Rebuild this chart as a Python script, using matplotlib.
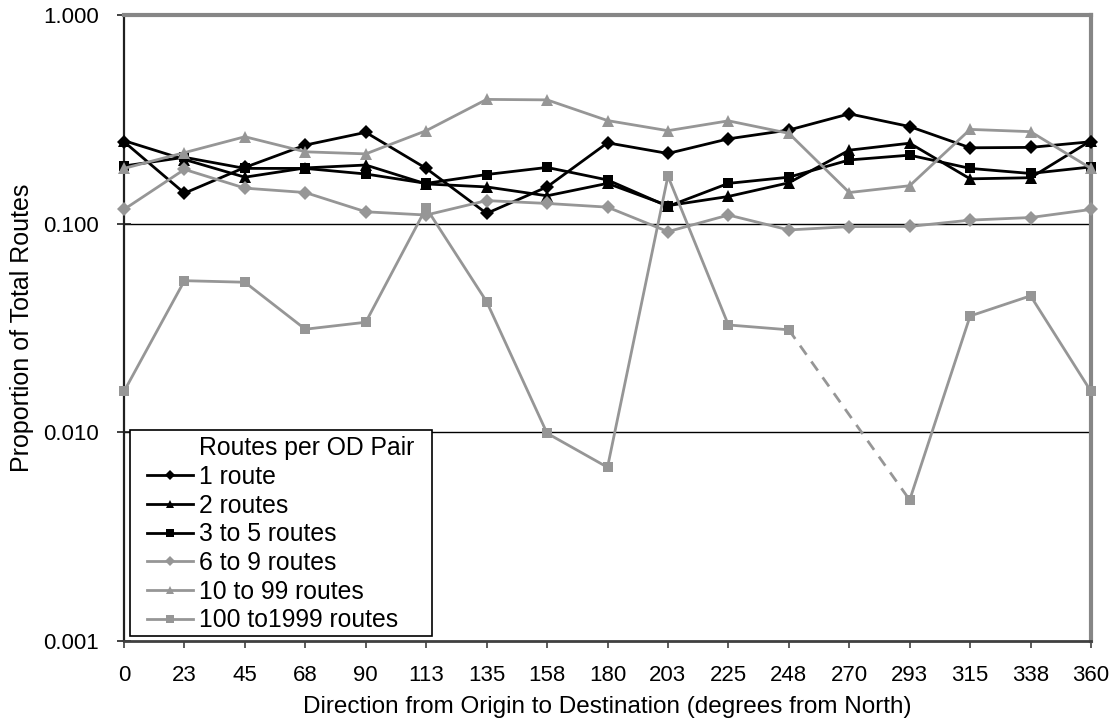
import numpy as np
import matplotlib
matplotlib.use("Agg")
import matplotlib.pyplot as plt
from matplotlib.lines import Line2D
from matplotlib.patches import Rectangle
from matplotlib.ticker import FixedLocator, FixedFormatter, NullLocator

plt.rcParams['font.family'] = ['Liberation Sans', 'DejaVu Sans']

categories = ["0", "23", "45", "68", "90", "113", "135", "158", "180",
              "203", "225", "248", "270", "293", "315", "338", "360"]

route_1 = [0.247, 0.140, 0.186, 0.238, 0.274, 0.184, 0.112, 0.150, 0.244,
           0.217, 0.255, 0.281, 0.336, 0.292, 0.231, 0.232, 0.247]
routes_2 = [0.250, 0.203, 0.167, 0.185, 0.191, 0.155, 0.150, 0.136, 0.156,
            0.122, 0.135, 0.157, 0.225, 0.243, 0.164, 0.166, 0.250]
routes_3_5 = [0.189, 0.208, 0.184, 0.184, 0.173, 0.156, 0.172, 0.186, 0.162,
              0.121, 0.156, 0.167, 0.202, 0.213, 0.184, 0.174, 0.187]
routes_6_9 = [0.117, 0.182, 0.148, 0.141, 0.114, 0.110, 0.129, 0.125, 0.120,
              0.0916, 0.110, 0.0933, 0.0968, 0.097, 0.104, 0.107, 0.117]
routes_10_99 = [0.184, 0.219, 0.261, 0.221, 0.216, 0.279, 0.394, 0.392, 0.312,
                0.279, 0.311, 0.271, 0.141, 0.152, 0.283, 0.276, 0.184]
routes_100_1999 = [0.0157, 0.0533, 0.0524, 0.0312, 0.0337, 0.119, 0.0423, 0.0099, 0.0068,
                   0.169, 0.0327, 0.0310, np.nan, 0.00474, 0.0361, 0.0451, 0.0157]

series_labels = ["1 route", "2 routes", "3 to 5 routes", "6 to 9 routes",
                 "10 to 99 routes", "100 to1999 routes"]
legend_title = "Routes per OD Pair"
y_ticks = [0.001, 0.010, 0.100, 1.000]
y_tick_labels = ["0.001", "0.010", "0.100", "1.000"]

BLACK = "#000000"
GRAY = "#969696"
FS_TICK = 16
FS_XLABEL = 17.5
FS_YLABEL = 18
FS_LEG = 17.8
W, H = 1115, 721

fig = plt.figure(figsize=(W / 100, H / 100), dpi=100)
ax = fig.add_axes([124 / W, 1 - 641 / H, (1091 - 124) / W, (641 - 15) / H])

x = np.arange(len(categories))
styles = [
    (route_1, BLACK, "D", 7),
    (routes_2, BLACK, "^", 8),
    (routes_3_5, BLACK, "s", 7.5),
    (routes_6_9, GRAY, "D", 7),
    (routes_10_99, GRAY, "^", 8),
    (routes_100_1999, GRAY, "s", 7.5),
]
handles = []
for (vals, col, mk, ms), lab in zip(styles, series_labels):
    ln, = ax.plot(x, vals, color=col, marker=mk, markersize=ms, linewidth=2,
                  markeredgewidth=0, clip_on=False, zorder=3, label=lab)
    handles.append(ln)

# dashed connector across the missing value in the last series
vals = np.array(routes_100_1999, dtype=float)
for i in range(1, len(vals) - 1):
    if np.isnan(vals[i]):
        ax.plot([x[i - 1], x[i + 1]], [vals[i - 1], vals[i + 1]], color=GRAY,
                linewidth=2, linestyle=(0, (4, 3)), zorder=2)

ax.set_yscale("log")
ax.set_ylim(0.001, 1.0)
ax.set_xlim(x[0], x[-1])
ax.yaxis.set_major_locator(FixedLocator(y_ticks))
ax.yaxis.set_major_formatter(FixedFormatter(y_tick_labels))
ax.yaxis.set_minor_locator(NullLocator())
ax.set_xticks(x)
ax.set_xticklabels(categories)

for yv in y_ticks[1:3]:
    ax.axhline(yv, color="black", linewidth=1, zorder=1)

ax.spines["left"].set_color("#202020")
ax.spines["left"].set_linewidth(1.6)
ax.spines["bottom"].set_color("#404040")
ax.spines["bottom"].set_linewidth(2)
ax.spines["top"].set_color("#868686")
ax.spines["top"].set_linewidth(3)
ax.spines["right"].set_color("#868686")
ax.spines["right"].set_linewidth(3)

ax.tick_params(axis="x", direction="out", length=5, width=1.2, color="#404040",
               labelsize=FS_TICK, pad=12.4)
ax.tick_params(axis="y", direction="inout", length=10, width=1.2, color="#202020",
               labelsize=FS_TICK, pad=13)

ax.set_xlabel("Direction from Origin to Destination (degrees from North)",
              fontsize=FS_XLABEL, labelpad=7)
ax.set_ylabel("Proportion of Total Routes", fontsize=FS_YLABEL, labelpad=7)

# legend frame
frame = Rectangle((130 / W, 1 - 636 / H), 302 / W, 206 / H, transform=fig.transFigure,
                  facecolor="white", edgecolor="black", linewidth=1.2, zorder=4,
                  clip_on=False)
ax.add_patch(frame)

title_handle = Line2D([], [], linestyle="none", marker="none")
leg = ax.legend([title_handle] + handles, [legend_title] + series_labels,
                loc="upper left", bbox_to_anchor=(147 / W, 1 - 436.5 / H),
                bbox_transform=fig.transFigure, fontsize=FS_LEG,
                frameon=False, handlelength=1.86, handletextpad=0.25,
                labelspacing=0.187, borderpad=0, markerscale=0.75, borderaxespad=0)
leg.set_zorder(5)

fig.savefig("out.png", dpi=100, facecolor="white")
